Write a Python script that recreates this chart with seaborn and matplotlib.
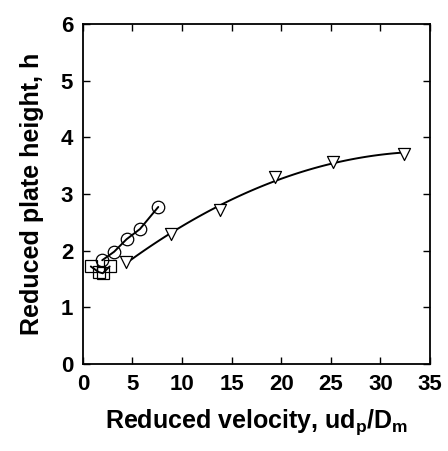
import numpy as np
import pandas as pd
import matplotlib
matplotlib.use("Agg")
import matplotlib.pyplot as plt
import seaborn as sns

# Data
tri_x = [4.3, 8.9, 13.8, 19.4, 25.2, 32.4]
tri_y = [1.80, 2.30, 2.71, 3.30, 3.56, 3.71]

circ_x = [1.95, 3.15, 4.4, 5.75, 7.6]
circ_y = [1.83, 1.98, 2.20, 2.38, 2.77]

sq_x = [0.8, 1.6, 2.0, 2.7]
sq_y = [1.72, 1.62, 1.60, 1.72]

x_ticks = [0, 5, 10, 15, 20, 25, 30, 35]
y_ticks = [0, 1, 2, 3, 4, 5, 6]

sns.set_style("ticks")
plt.rcParams['font.family'] = ['Liberation Sans', 'DejaVu Sans']
plt.rcParams['font.weight'] = 'bold'
plt.rcParams['mathtext.fontset'] = 'custom'
plt.rcParams['mathtext.bf'] = 'Liberation Sans:bold'
plt.rcParams['mathtext.rm'] = 'Liberation Sans:bold'
plt.rcParams['mathtext.default'] = 'bf'
plt.rcParams['text.color'] = 'black'
plt.rcParams['axes.labelcolor'] = 'black'
plt.rcParams['xtick.color'] = 'black'
plt.rcParams['ytick.color'] = 'black'

fig = plt.figure(figsize=(4.48, 4.51), dpi=100)
ax = fig.add_axes([0.185, 0.193, 0.775, 0.754])

# triangles with smooth (quadratic) fit
sns.regplot(x=tri_x, y=tri_y, order=2, ci=None, ax=ax, marker='v',
            scatter_kws=dict(s=75, facecolors='white', edgecolors='black',
                             linewidths=0.9, alpha=1, zorder=3),
            line_kws=dict(color='black', lw=1.4, zorder=2))

# circles
sns.lineplot(x=circ_x, y=circ_y, ax=ax, color='black', lw=1.4, sort=False,
             marker='o', markersize=9, markerfacecolor='none', markeredgecolor='black',
             markeredgewidth=0.9)

# squares
sns.lineplot(x=sq_x, y=sq_y, ax=ax, color='black', lw=1.4, sort=False,
             marker='s', markersize=9, markerfacecolor='none', markeredgecolor='black',
             markeredgewidth=0.9)

ax.set_xlim(0, 35)
ax.set_ylim(0, 6)
ax.set_xticks(x_ticks)
ax.set_yticks(y_ticks)
ax.tick_params(direction='in', length=5, width=1, top=True, right=True,
               labelsize=16, pad=7, color='black', labelcolor='black')
for lab in ax.get_xticklabels() + ax.get_yticklabels():
    lab.set_fontweight('bold')
for s in ax.spines.values():
    s.set_linewidth(1.3)
    s.set_color('black')

ax.set_xlabel(r"Reduced velocity, ud$_\mathbf{p}$/D$_\mathbf{m}$", fontsize=18,
              fontweight='bold', labelpad=9, color='black')
ax.set_ylabel("Reduced plate height, h", fontsize=18, fontweight='bold',
              labelpad=12, color='black')

fig.savefig("out.png", dpi=100)
